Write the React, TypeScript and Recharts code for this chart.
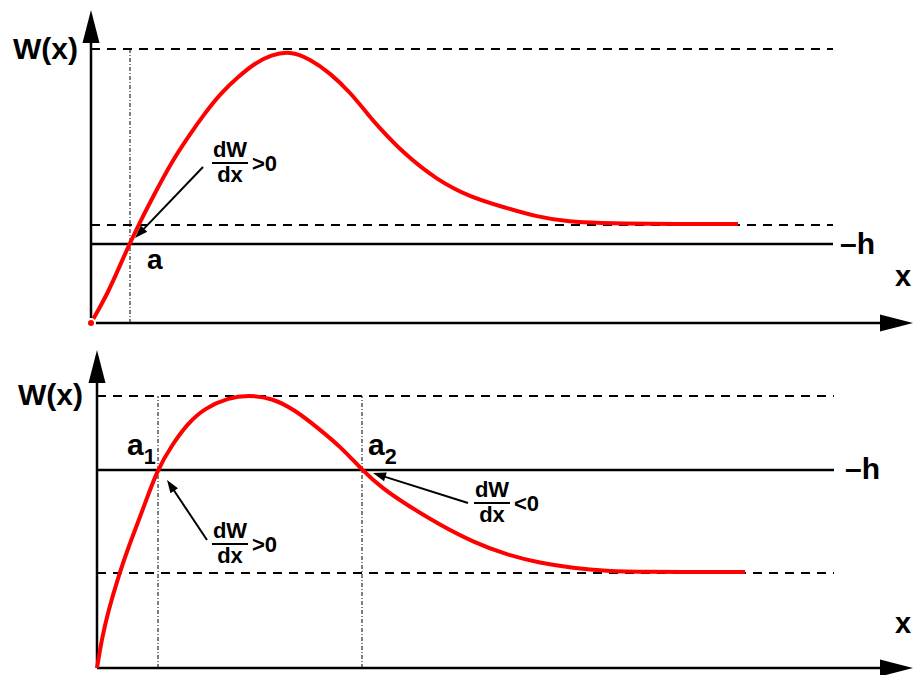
import { LineChart, Line, XAxis, YAxis, ReferenceLine, ReferenceDot } from "recharts";

const FONT = '"Liberation Sans", Arial, Helvetica, sans-serif';
const RED = "#ff0000";
const INK = "#000";

// upper panel: W(x) crosses -h once (x = a)
const upperX = [0, 17, 30, 39, 50, 64, 80, 97, 114, 130, 147, 164, 180, 199, 219, 239, 259, 279, 286, 312, 346, 379, 412, 446, 479, 509, 549, 647];
const upperW = [0, 30, 60, 80, 103, 130, 160, 186, 210, 230, 246, 260, 268, 272, 264, 250, 231, 206, 198, 170, 143, 126, 116, 106, 101, 100, 99, 99];
const upperMax = 274;
const upperTail = 98;
const upperH = 79;
const upperA = [39];

// lower panel: W(x) crosses -h twice (a1, a2)
const lowerX = [0, 5, 11, 21, 31, 45, 60, 75, 91, 108, 131, 151, 175, 198, 221, 245, 265, 285, 310, 343, 376, 410, 443, 476, 510, 543, 648];
const lowerW = [0, 30, 56, 90, 120, 156, 198, 223, 245, 260, 270, 273, 270, 258, 240, 220, 198, 180, 163, 143, 126, 113, 105, 100, 97, 96, 96];
const lowerMax = 272;
const lowerTail = 95;
const lowerH = 198;
const lowerA = [61, 265];

const upperData = upperX.map((x, i) => ({ x, w: upperW[i] }));
const lowerData = lowerX.map((x, i) => ({ x, w: lowerW[i] }));

function arrow(head: number, width: number, strokeWidth: number) {
  return (p: any) => {
    const { x1, y1, x2, y2 } = p;
    const ang = Math.atan2(y2 - y1, x2 - x1);
    const c = Math.cos(ang);
    const s = Math.sin(ang);
    const bx = x2 - head * c;
    const by = y2 - head * s;
    const nx = (-s * width) / 2;
    const ny = (c * width) / 2;
    return (
      <g>
        <line x1={x1} y1={y1} x2={bx + c} y2={by + s} stroke={INK} strokeWidth={strokeWidth} />
        <polygon points={`${x2},${y2} ${bx + nx},${by + ny} ${bx - nx},${by - ny}`} fill={INK} />
      </g>
    );
  };
}

const axisArrow = arrow(33, 17, 2.5);
const noteArrow = arrow(13, 9, 2);

function label(text: string, size: number, sub?: string) {
  return (p: any) => (
    <text x={p.cx} y={p.cy} fontFamily={FONT} fontWeight="bold" fontSize={size} fill={INK}>
      {text}
      {sub && (
        <tspan fontSize={size * 0.72} dy={9}>
          {sub}
        </tspan>
      )}
    </text>
  );
}

// dW/dx with a sign, drawn as one text block plus the fraction bar
function fraction(sign: string, gap: number) {
  return (p: any) => {
    const { cx, cy } = p;
    return (
      <g>
        <line x1={cx - 18} x2={cx + 18} y1={cy} y2={cy} stroke={INK} strokeWidth={2} />
        <text fontFamily={FONT} fontWeight="bold" fontSize={22} fill={INK}>
          <tspan x={cx} y={cy - 6 - gap} textAnchor="middle">dW</tspan>
          <tspan x={cx} y={cy + 19 + gap} textAnchor="middle">dx</tspan>
          <tspan x={cx + 22} y={cy + 8}>{sign}</tspan>
        </text>
      </g>
    );
  };
}

function guides(max: number, tail: number, h: number, cross: number[], end: number) {
  return [
    <ReferenceLine key="max" segment={[{ x: 0, y: max }, { x: end, y: max }]} stroke={INK} strokeWidth={1.8} strokeDasharray="9 7" />,
    <ReferenceLine key="tail" segment={[{ x: 0, y: tail }, { x: end, y: tail }]} stroke={INK} strokeWidth={1.8} strokeDasharray="9 7" />,
    <ReferenceLine key="h" segment={[{ x: 0, y: h }, { x: end, y: h }]} stroke={INK} strokeWidth={2.5} />,
    ...cross.map((a) => (
      <ReferenceLine key={`a${a}`} segment={[{ x: a, y: 0 }, { x: a, y: max }]} stroke={INK} strokeWidth={1} strokeDasharray="4 2 1 2" />
    )),
  ];
}

export default function App() {
  return (
    <div style={{ position: "absolute", left: 0, top: 0, width: 915, height: 675, background: "#fff" }}>
      <div style={{ position: "absolute", left: 0, top: 0 }}>
        <LineChart width={915} height={340} data={upperData} margin={{ top: 0, right: 0, bottom: 0, left: 0 }}>
          <XAxis type="number" dataKey="x" domain={[-91, 824]} hide allowDataOverflow />
          <YAxis type="number" domain={[-17, 323]} hide allowDataOverflow />
          {guides(upperMax, upperTail, upperH, upperA, 742)}
          <ReferenceLine segment={[{ x: 0, y: 0 }, { x: 0, y: 313 }]} shape={axisArrow} />
          <ReferenceLine segment={[{ x: 0, y: 0 }, { x: 822, y: 0 }]} shape={axisArrow} />
          <ReferenceLine segment={[{ x: 112, y: 156 }, { x: 44, y: 85 }]} shape={noteArrow} />
          <Line type="basis" dataKey="w" stroke={RED} strokeWidth={4} dot={false} isAnimationActive={false} />
          <ReferenceDot x={-78} y={264} r={0} shape={label("W(x)", 30)} />
          <ReferenceDot x={56} y={54} r={0} shape={label("a", 28)} />
          <ReferenceDot x={749} y={69} r={0} shape={label("–h", 30)} />
          <ReferenceDot x={804} y={37} r={0} shape={label("x", 29)} />
          <ReferenceDot x={139} y={160} r={0} shape={fraction(">0", 0)} />
        </LineChart>
      </div>
      <div style={{ position: "absolute", left: 0, top: 340 }}>
        <LineChart width={915} height={335} data={lowerData} margin={{ top: 0, right: 0, bottom: 0, left: 0 }}>
          <XAxis type="number" dataKey="x" domain={[-97, 818]} hide allowDataOverflow />
          <YAxis type="number" domain={[-7, 328]} hide allowDataOverflow />
          {guides(lowerMax, lowerTail, lowerH, lowerA, 737)}
          <ReferenceLine segment={[{ x: 0, y: 0 }, { x: 0, y: 318 }]} shape={axisArrow} />
          <ReferenceLine segment={[{ x: 0, y: 0 }, { x: 816, y: 0 }]} shape={axisArrow} />
          <ReferenceLine segment={[{ x: 110, y: 128 }, { x: 70, y: 188 }]} shape={noteArrow} />
          <ReferenceLine segment={[{ x: 371, y: 165 }, { x: 276, y: 195 }]} shape={noteArrow} />
          <Line type="basis" dataKey="w" stroke={RED} strokeWidth={4} dot={false} isAnimationActive={false} />
          <ReferenceDot x={-79} y={263} r={0} shape={label("W(x)", 30)} />
          <ReferenceDot x={30} y={213} r={0} shape={label("a", 30, "1")} />
          <ReferenceDot x={271} y={213} r={0} shape={label("a", 30, "2")} />
          <ReferenceDot x={748} y={189} r={0} shape={label("–h", 30)} />
          <ReferenceDot x={798} y={35} r={0} shape={label("x", 29)} />
          <ReferenceDot x={133} y={124} r={0} shape={fraction(">0", 0)} />
          <ReferenceDot x={395} y={165} r={0} shape={fraction("<0", 0)} />
        </LineChart>
      </div>
    </div>
  );
}
